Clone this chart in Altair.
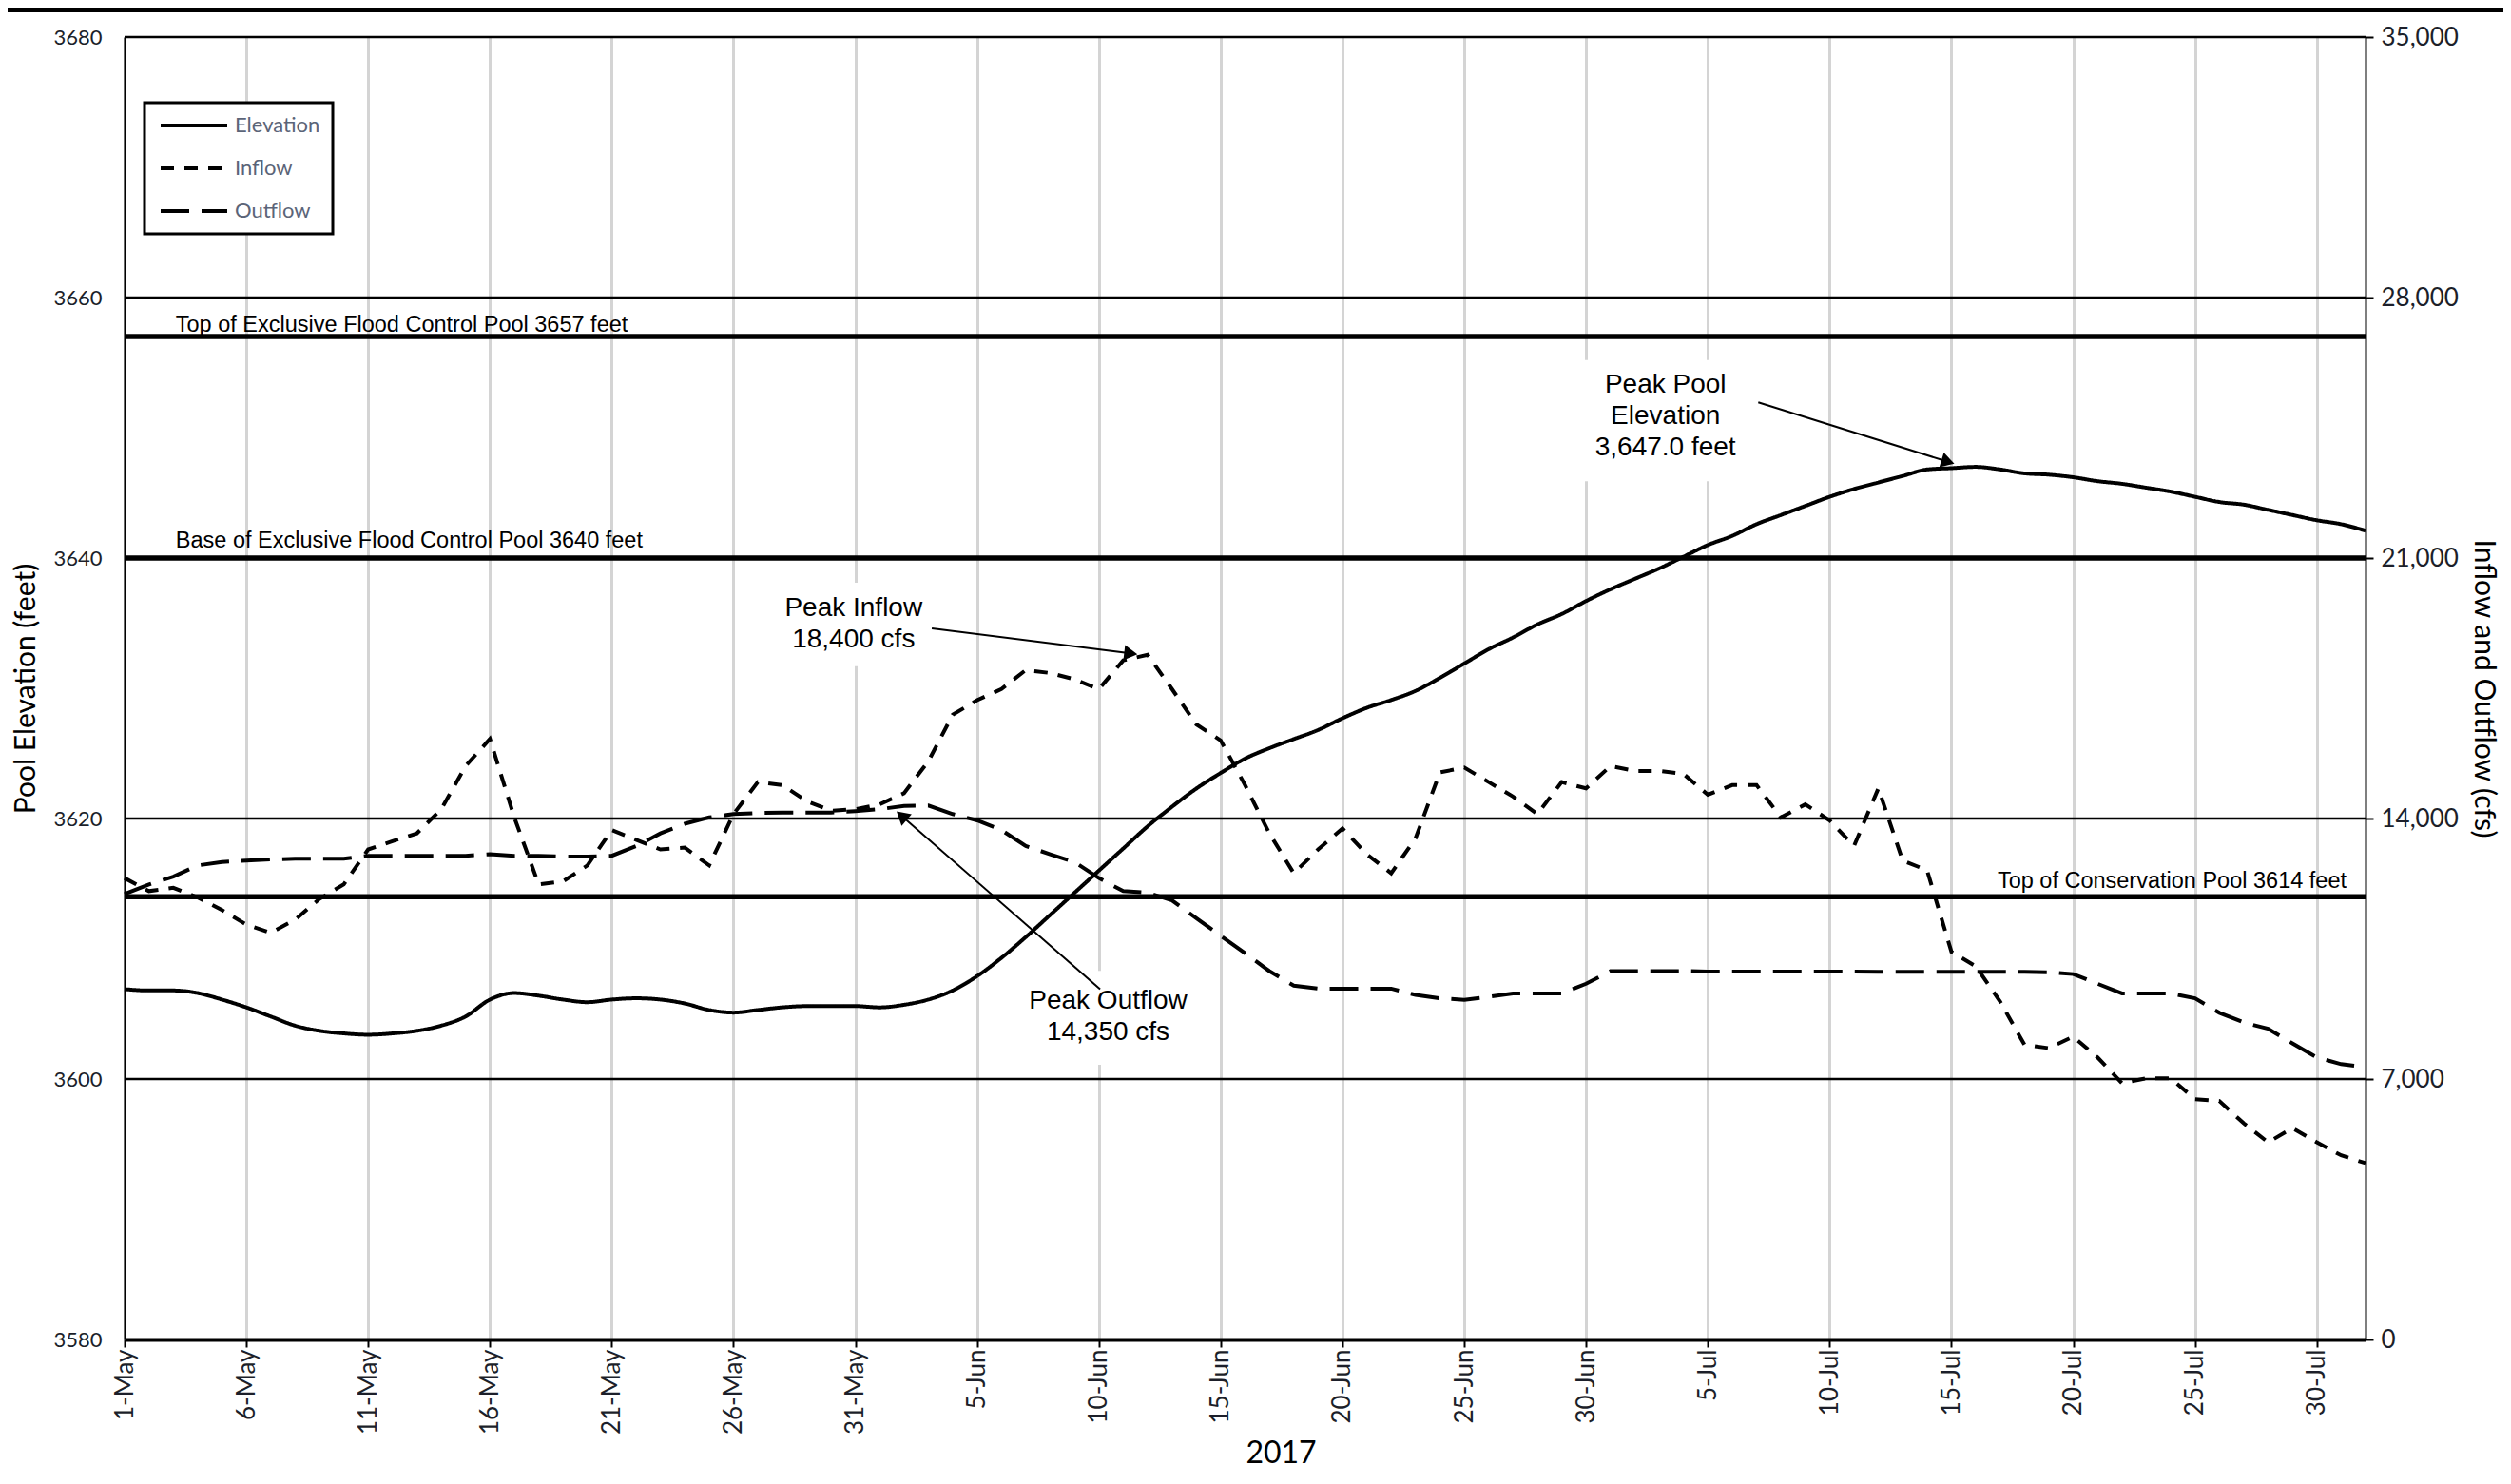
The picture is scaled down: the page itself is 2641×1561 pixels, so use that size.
import altair as alt
import pandas as pd

# ---------------- data ----------------
START = "2017-05-01"

# Pool elevation (feet), daily 1-May .. 1-Aug 2017
elevation = [
    3606.9, 3606.8, 3606.8, 3606.6, 3606.1, 3605.5, 3604.8, 3604.1, 3603.7, 3603.5,
    3603.4, 3603.5, 3603.7, 3604.1, 3604.8, 3606.1, 3606.6, 3606.4, 3606.1, 3605.9,
    3606.1, 3606.2, 3606.1, 3605.8, 3605.3, 3605.1, 3605.3, 3605.5, 3605.6, 3605.6,
    3605.6,
    3605.5, 3605.7, 3606.1, 3606.8, 3607.9, 3609.3, 3610.9, 3612.6, 3614.3, 3616.0,
    3617.7, 3619.4, 3620.9, 3622.3, 3623.5, 3624.6, 3625.4, 3626.1, 3626.8, 3627.7,
    3628.5, 3629.1, 3629.8, 3630.8, 3631.9, 3633.0, 3633.9, 3634.9, 3635.7, 3636.7,
    3637.6, 3638.4, 3639.2, 3640.1, 3641.0, 3641.7, 3642.6, 3643.3, 3644.0, 3644.7,
    3645.3, 3645.8, 3646.3, 3646.8, 3646.9, 3647.0, 3646.8, 3646.5, 3646.4, 3646.2,
    3645.9, 3645.7, 3645.4, 3645.1, 3644.7, 3644.3, 3644.1, 3643.7, 3643.3, 3642.9,
    3642.6,
    3642.1,
]

# Inflow (cfs)
inflow = [
    12400, 12050, 12140, 11880, 11540, 11150, 10930, 11280, 11840, 12230,
    13170, 13390, 13600, 14250, 15410, 16140, 14030, 12230, 12310, 12740,
    13690, 13430, 13170, 13220, 12740, 14120, 14980, 14900, 14470, 14210,
    14250,
    14380, 14680, 15540, 16790, 17180, 17480, 17990, 17910, 17740, 17480,
    18250, 18400, 17480, 16530, 16100, 14900, 13600, 12530, 13170, 13730,
    13040, 12530, 13470, 15240, 15370, 14980, 14590, 14120, 14980, 14810,
    15410, 15280, 15280, 15200, 14640, 14900, 14900, 14030, 14380, 13950,
    13260, 14810, 12870, 12610, 10420, 10030, 9080, 7920, 7830, 8140,
    7580, 6890, 7020, 7020, 6460, 6410, 5810, 5300, 5680, 5300,
    4950,
    4740,
]

# Outflow (cfs)
outflow = [
    11970, 12230, 12440, 12740, 12830, 12870, 12900, 12920, 12920, 12920,
    13000, 13000, 13000, 13000, 13000, 13040, 13000, 13000, 12980, 12980,
    13000, 13260, 13600, 13860, 14030, 14120, 14150, 14160, 14160, 14160,
    14200,
    14250, 14340, 14350, 14120, 13950, 13690, 13260, 13040, 12830, 12400,
    12050, 12010, 11800, 11320, 10850, 10380, 9900, 9510, 9430, 9430,
    9430, 9430, 9260, 9170, 9130, 9210, 9300, 9300, 9300, 9560,
    9900, 9900, 9900, 9900, 9890, 9890, 9890, 9890, 9890, 9890,
    9890, 9880, 9880, 9880, 9880, 9880, 9880, 9880, 9870, 9820,
    9560, 9300, 9300, 9300, 9170, 8780, 8520, 8350, 7960, 7580,
    7400,
    7320,
]

series_names = ["Elevation", "Inflow", "Outflow"]
series_dash = [[1, 0], [14, 11], [30, 13]]

grid_levels = [3600, 3620, 3660, 3680]
pool_levels = [3657, 3640, 3614]
pool_labels = [
    "Top of Exclusive Flood Control Pool 3657 feet",
    "Base of Exclusive Flood Control Pool 3640 feet",
    "Top of Conservation Pool 3614 feet",
]
pool_label_day = [2.1, 2.1, 92.0]
pool_label_dy = [-12, -18, -16]

elev_ticks = list(range(3580, 3681, 20))
flow_ticks = list(range(0, 35001, 7000))
tick_day_offsets = list(range(0, 91, 5))

# annotation text (first-line position), white text boxes, arrows
peak_text = ["Peak Inflow\n18,400 cfs", "Peak Outflow\n14,350 cfs",
             "Peak Pool\nElevation\n3,647.0 feet"]
peak_text_day = [29.93, 40.38, 63.26]
peak_text_elev = [3636.1, 3605.95, 3653.3]
box_day_from = [26.5, 36.6, 59.6]
box_day_to = [33.4, 44.1, 66.9]
box_elev_from = [3631.7, 3601.1, 3645.9]
box_elev_to = [3638.1, 3608.3, 3655.2]
arrow_start_day = [33.14, 40.05, 67.07]
arrow_start_elev = [3634.6, 3606.9, 3651.95]
arrow_head_day = [41.22, 31.97, 74.77]
arrow_head_elev = [3632.7, 3620.1, 3647.44]
arrow_angle = [97, 311, 107]

# ---------------- helpers ----------------
t0 = pd.Timestamp(START, tz="UTC")


def day_iso(d):
    return (t0 + pd.Timedelta(days=d)).strftime("%Y-%m-%dT%H:%M:%SZ")


def day_ms(d):
    return int((t0 + pd.Timedelta(days=d)).timestamp() * 1000)


n = len(elevation)
dates = [day_iso(i) for i in range(n)]

elev_df = pd.DataFrame({"date": dates, "value": elevation, "series": "Elevation"})
flow_df = pd.concat([
    pd.DataFrame({"date": dates, "flow": inflow, "series": "Inflow"}),
    pd.DataFrame({"date": dates, "flow": outflow, "series": "Outflow"}),
])
grid_df = pd.DataFrame({"level": grid_levels})
pool_df = pd.DataFrame({"level": pool_levels, "label": pool_labels,
                        "date": [day_iso(d) for d in pool_label_day]})
peak_df = pd.DataFrame({"text": peak_text,
                        "date": [day_iso(d) for d in peak_text_day],
                        "value": peak_text_elev})
box_df = pd.DataFrame({
    "d1": [day_iso(d) for d in box_day_from], "d2": [day_iso(d) for d in box_day_to],
    "e1": box_elev_from, "e2": box_elev_to,
})
arrow_df = pd.DataFrame({
    "d1": [day_iso(d) for d in arrow_start_day], "e1": arrow_start_elev,
    "d2": [day_iso(d) for d in arrow_head_day], "e2": arrow_head_elev,
    "ang": arrow_angle,
})

W, H = 2357, 1370
PAD = {"left": 123, "top": 31, "right": 145, "bottom": 144}

x_scale = alt.Scale(type="utc", domain=[day_ms(0), day_ms(92)])
y_scale = alt.Scale(domain=[3580, 3680], nice=False, zero=False)
f_scale = alt.Scale(domain=[0, 35000], nice=False, zero=True)
dash_scale = alt.Scale(domain=series_names, range=series_dash)

x_axis = alt.Axis(
    values=[day_ms(d) for d in tick_day_offsets], format="%-d-%b",
    labelAngle=-90, labelFlush=False, labelFont="Lato", labelFontSize=26,
    labelColor="#1c1f2a", labelPadding=2, tickSize=8, tickWidth=2, tickColor="black",
    domainColor="black", domainWidth=4, grid=True, gridColor="#d4d4d4", gridWidth=3,
    labelOverlap=False,
    title="2017", titleFont="Lato", titleFontSize=32, titleFontWeight="normal",
    titleColor="black", titleX=1216, titleY=119, titleBaseline="middle", titleAlign="center",
)
y_axis = alt.Axis(
    orient="left", values=elev_ticks, format="d", labelFont="Lato", labelFontSize=22,
    labelColor="#1c1f2a", labelPadding=24, ticks=False, domainColor="black",
    domainWidth=2, grid=False,
    title="Pool Elevation (feet)", titleFont="Lato", titleFontSize=30,
    titleFontWeight="normal", titleColor="black", titleAngle=-90, titleX=-104,
    titleY=685, titleBaseline="middle", titleAlign="center",
)
f_axis = alt.Axis(
    orient="right", values=flow_ticks, format=",d", labelFont="Lato", labelFontSize=26,
    labelColor="#1c1f2a", labelPadding=8, tickSize=8, tickWidth=2, tickColor="black",
    domainColor="black", domainWidth=2, grid=False,
    title="Inflow and Outflow (cfs)", titleFont="Lato", titleFontSize=30,
    titleFontWeight="normal", titleColor="black", titleAngle=90, titleX=123,
    titleY=685, titleBaseline="middle", titleAlign="center",
)
legend = alt.Legend(
    orient="none", legendX=21, legendY=69, title=None, symbolType="stroke",
    symbolSize=4900, symbolStrokeWidth=4, symbolStrokeColor="black",
    labelFont="Lato", labelFontSize=22, labelColor="#5b6478", labelOffset=6,
    symbolOffset=2, padding=13, strokeColor="black", fillColor="white",
    clipHeight=22, rowPadding=23,
)


def xenc(field):
    return alt.X(f"{field}:T", scale=x_scale, axis=x_axis)


# ---------------- layers ----------------
top_bar = alt.Chart(pd.DataFrame({"k": [0]})).mark_rule(
    color="black", strokeWidth=6
).encode(x=alt.value(-PAD["left"]), x2=alt.value(W + PAD["right"]), y=alt.value(-29))

text_boxes = alt.Chart(box_df).mark_rect(color="white", opacity=1).encode(
    x=xenc("d1"), x2="d2:T",
    y=alt.Y("e1:Q", scale=y_scale, axis=None), y2="e2:Q",
)

grid_rules = alt.Chart(grid_df).mark_rule(color="black", strokeWidth=2.5).encode(
    y=alt.Y("level:Q", scale=y_scale, axis=None)
)
pool_rules = alt.Chart(pool_df).mark_rule(color="black", strokeWidth=5.5).encode(
    y=alt.Y("level:Q", scale=y_scale, axis=None)
)

pool_text_layers = []
for i in range(len(pool_levels)):
    align = "left" if i < 2 else "right"
    dx = 0 if i < 2 else -20
    pool_text_layers.append(
        alt.Chart(pool_df.iloc[[i]]).mark_text(
            align=align, baseline="middle", font="Liberation Sans", fontSize=23.5,
            color="black", dy=pool_label_dy[i], dx=dx,
        ).encode(
            x=xenc("date"),
            y=alt.Y("level:Q", scale=y_scale, axis=None),
            text="label:N",
        )
    )

elev_line = alt.Chart(elev_df).mark_line(
    color="black", strokeWidth=4, interpolate="monotone"
).encode(
    x=xenc("date"),
    y=alt.Y("value:Q", scale=y_scale, axis=y_axis),
    strokeDash=alt.StrokeDash("series:N", scale=dash_scale, legend=legend),
)

flow_lines = alt.Chart(flow_df).mark_line(color="black", strokeWidth=4).encode(
    x=xenc("date"),
    y=alt.Y("flow:Q", scale=f_scale, axis=f_axis),
    strokeDash=alt.StrokeDash("series:N", scale=dash_scale, legend=legend),
    detail="series:N",
)

peak_labels = alt.Chart(peak_df).mark_text(
    align="center", baseline="middle", font="Liberation Sans", fontSize=28,
    color="black", lineBreak="\n", lineHeight=33,
).encode(
    x=xenc("date"),
    y=alt.Y("value:Q", scale=y_scale, axis=None),
    text="text:N",
)

arrow_lines = alt.Chart(arrow_df).mark_rule(color="black", strokeWidth=2).encode(
    x=xenc("d1"), x2="d2:T",
    y=alt.Y("e1:Q", scale=y_scale, axis=None), y2="e2:Q",
)
arrow_heads = alt.Chart(arrow_df).mark_point(
    shape="triangle", filled=True, color="black", size=260, opacity=1
).encode(
    x=xenc("d2"),
    y=alt.Y("e2:Q", scale=y_scale, axis=None),
    angle=alt.Angle("ang:Q", scale=None),
)

chart = alt.layer(
    text_boxes, grid_rules, pool_rules, elev_line, flow_lines, *pool_text_layers,
    peak_labels, arrow_lines, arrow_heads, top_bar,
).resolve_scale(y="independent").properties(
    width=W, height=H, padding=PAD, autosize=alt.AutoSizeParams(type="none"),
).configure_view(stroke=None).configure_legend(strokeWidth=3)

chart.save("out.html", embed_options={"renderer": "svg", "actions": False})
